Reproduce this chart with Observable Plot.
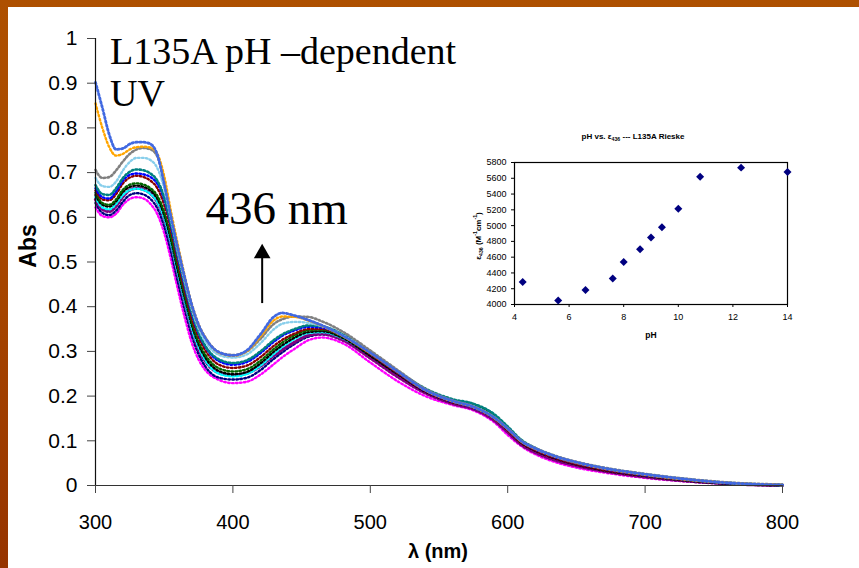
<!DOCTYPE html>
<html><head><meta charset="utf-8">
<script src="https://cdn.jsdelivr.net/npm/d3@7"></script>
<script src="https://cdn.jsdelivr.net/npm/@observablehq/plot@0.6"></script>
<style>
html,body{margin:0;padding:0;}
body{width:859px;height:568px;overflow:hidden;position:relative;
 background:linear-gradient(180deg,#ae5000 0%,#a54400 55%,#963400 100%);
 font-family:"Liberation Sans",Arial,sans-serif;}
#panel{position:absolute;left:8px;top:7px;right:0;bottom:0;background:#fff;}
.abs{position:absolute;white-space:nowrap;}
.serif{font-family:"Liberation Serif","Times New Roman",serif;}
sub,sup{font-size:65%;line-height:0;}
</style></head><body>
<div id="panel"></div>
<div id="main" class="abs" style="left:0;top:0"></div>
<div id="inset" class="abs" style="left:470px;top:120px"></div>
<div class="abs serif" style="left:110px;top:30px;font-size:38px;line-height:42px;">L135A pH –dependent<br>UV</div>
<div class="abs" style="left:28px;top:246px;font-size:23px;font-weight:bold;transform:translate(-50%,-50%) rotate(-90deg);">Abs</div>
<div class="abs" style="left:438px;top:551px;font-size:20px;font-weight:bold;transform:translate(-50%,-50%);">λ (nm)</div>
<div class="abs" style="left:633px;top:136px;font-size:8px;font-weight:bold;transform:translate(-50%,-50%);">pH vs. ε<sub>436</sub> --- L135A Rieske</div>
<div class="abs" style="left:651px;top:335px;font-size:8.5px;font-weight:bold;transform:translate(-50%,-50%);">pH</div>
<div class="abs" style="left:478px;top:236px;font-size:8px;font-weight:bold;transform:translate(-50%,-50%) rotate(-90deg);">ε<sub>436</sub> (M<sup>-1</sup>cm<sup>-1</sup>)</div>
<script>
// ---- main spectra data ----
const wavelengths = [300,305,310,315,320,325,330,335,340,345,350,355,360,365,370,375,380,390,400,410,420,430,436,445,455,465,480,500,520,540,560,575,590,600,610,620,635,650,670,700,730,760,800];

const royalBlue = [0.902,0.845,0.785,0.752,0.754,0.764,0.768,0.768,0.764,0.740,0.675,0.600,0.530,0.465,0.405,0.360,0.330,0.298,0.291,0.302,0.338,0.378,0.386,0.380,0.370,0.358,0.335,0.297,0.255,0.214,0.189,0.176,0.152,0.127,0.099,0.083,0.065,0.052,0.039,0.025,0.014,0.006,0.001];
const orange = [0.855,0.800,0.757,0.738,0.742,0.752,0.757,0.758,0.756,0.742,0.692,0.612,0.538,0.468,0.407,0.361,0.331,0.297,0.290,0.300,0.333,0.370,0.378,0.377,0.369,0.357,0.334,0.296,0.254,0.213,0.188,0.175,0.151,0.126,0.098,0.082,0.064,0.051,0.038,0.024,0.013,0.006,0.001];
const gray = [0.706,0.688,0.690,0.705,0.725,0.742,0.752,0.755,0.752,0.736,0.682,0.602,0.527,0.461,0.401,0.357,0.330,0.298,0.292,0.300,0.328,0.362,0.372,0.378,0.377,0.367,0.344,0.302,0.258,0.216,0.190,0.177,0.153,0.128,0.100,0.084,0.066,0.053,0.040,0.026,0.015,0.007,0.002];
const skyBlue = [0.688,0.670,0.668,0.680,0.705,0.724,0.733,0.733,0.728,0.710,0.665,0.595,0.522,0.456,0.396,0.351,0.322,0.292,0.286,0.293,0.318,0.350,0.362,0.366,0.364,0.356,0.336,0.298,0.255,0.214,0.189,0.177,0.153,0.127,0.099,0.083,0.065,0.052,0.039,0.025,0.014,0.006,0.001];
const teal = [0.672,0.652,0.650,0.665,0.688,0.702,0.707,0.705,0.698,0.682,0.645,0.585,0.515,0.450,0.390,0.343,0.312,0.282,0.274,0.280,0.300,0.326,0.338,0.350,0.358,0.356,0.338,0.298,0.256,0.217,0.193,0.183,0.160,0.132,0.102,0.084,0.065,0.052,0.039,0.025,0.014,0.006,0.001];
const blue = [0.665,0.645,0.642,0.658,0.682,0.695,0.698,0.696,0.690,0.675,0.640,0.580,0.510,0.445,0.385,0.340,0.310,0.278,0.270,0.276,0.296,0.322,0.335,0.347,0.355,0.353,0.336,0.296,0.253,0.212,0.187,0.174,0.151,0.126,0.098,0.081,0.063,0.050,0.037,0.023,0.013,0.005,0.001];
const darkRed = [0.660,0.640,0.638,0.652,0.676,0.689,0.693,0.690,0.682,0.665,0.628,0.570,0.500,0.435,0.375,0.332,0.302,0.270,0.263,0.268,0.287,0.313,0.326,0.340,0.350,0.350,0.334,0.294,0.251,0.211,0.186,0.174,0.150,0.124,0.096,0.079,0.061,0.048,0.035,0.022,0.012,0.005,0.001];
const darkGreen = [0.655,0.632,0.628,0.640,0.662,0.673,0.676,0.673,0.665,0.648,0.612,0.555,0.488,0.425,0.366,0.322,0.292,0.262,0.255,0.260,0.279,0.306,0.320,0.336,0.347,0.348,0.333,0.294,0.253,0.215,0.191,0.182,0.158,0.130,0.100,0.082,0.063,0.050,0.037,0.023,0.013,0.005,0.001];
const black = [0.650,0.628,0.624,0.636,0.657,0.668,0.671,0.668,0.660,0.642,0.605,0.548,0.480,0.418,0.360,0.316,0.286,0.256,0.249,0.254,0.273,0.300,0.314,0.331,0.343,0.345,0.330,0.290,0.249,0.210,0.186,0.175,0.151,0.124,0.095,0.078,0.060,0.047,0.034,0.021,0.011,0.004,0.000];
const cyan = [0.645,0.622,0.618,0.630,0.650,0.661,0.664,0.661,0.652,0.634,0.597,0.540,0.473,0.410,0.352,0.309,0.280,0.250,0.244,0.249,0.268,0.295,0.310,0.328,0.341,0.343,0.329,0.291,0.250,0.212,0.188,0.178,0.155,0.127,0.097,0.080,0.062,0.049,0.036,0.022,0.012,0.005,0.001];
const purple = [0.640,0.618,0.613,0.625,0.646,0.661,0.665,0.662,0.653,0.634,0.596,0.540,0.472,0.408,0.350,0.306,0.278,0.252,0.247,0.251,0.267,0.291,0.304,0.321,0.336,0.339,0.325,0.285,0.243,0.207,0.183,0.171,0.146,0.119,0.091,0.074,0.056,0.044,0.032,0.019,0.010,0.004,0.000];
const navy = [0.632,0.610,0.605,0.615,0.635,0.650,0.654,0.651,0.641,0.620,0.580,0.522,0.455,0.393,0.336,0.294,0.266,0.241,0.237,0.241,0.258,0.284,0.298,0.317,0.333,0.338,0.326,0.288,0.246,0.208,0.184,0.172,0.147,0.120,0.092,0.075,0.057,0.045,0.033,0.020,0.010,0.004,0.000];
const magenta = [0.622,0.603,0.600,0.608,0.628,0.641,0.645,0.642,0.630,0.607,0.565,0.505,0.438,0.375,0.320,0.282,0.258,0.236,0.229,0.232,0.248,0.272,0.287,0.306,0.325,0.331,0.318,0.275,0.233,0.200,0.180,0.168,0.142,0.113,0.088,0.070,0.052,0.040,0.029,0.017,0.009,0.004,0.000];

const seriesNames  = ["magenta","navy","purple","cyan","black","darkGreen","darkRed","blue","teal","skyBlue","gray","orange","royalBlue"];
const seriesValues = [magenta,navy,purple,cyan,black,darkGreen,darkRed,blue,teal,skyBlue,gray,orange,royalBlue];
const seriesColors = ["#ff00ff","#000080","#800080","#00e2ea","#000000","#004d1a","#8b0a0a","#0a14ff","#007f7f","#33ccff","#8a8a8a","#ff6a1a","#4070f0"];
const seriesWidths = [2.4,2.4,3.2,2.4,2.4,2.4,2.4,2.4,2.6,2.4,2.6,2.4,2.8];

const xTicks = [300,400,500,600,700,800];
const yTicks = [0,0.1,0.2,0.3,0.4,0.5,0.6,0.7,0.8,0.9,1];

// annotations
const bandLabel = [{lambda:380, abs:0.586, text:"436 nm"}];
const arrowShaft = [{lambda:421.3, from:0.407, to:0.512}];
const arrowHead = [{lambda:421.3, abs:0.519}];

// ---- inset data ----
const pH  = [4.3,5.6,6.6,7.6,8.0,8.6,9.0,9.4,10.0,10.8,12.3,14.0];
const eps = [4285,4050,4185,4330,4540,4700,4850,4980,5215,5620,5735,5680];
const insetXTicks = [4,6,8,10,12,14];
const insetYTicks = [4000,4200,4400,4600,4800,5000,5200,5400,5600,5800];

const rows = seriesNames.flatMap((n,k) => wavelengths.map((w,i) => ({lambda:w, abs:seriesValues[k][i], series:n})));

const lineMarks = seriesNames.map((n,k) => Plot.line(rows.filter(r => r.series === n), {
  x:"lambda", y:"abs", stroke:"series", strokeWidth:seriesWidths[k],
  strokeDasharray:"1.6,2.4", curve:"monotone-x"
}));

const main = Plot.plot({
  width:859, height:568,
  marginLeft:95, marginRight:77, marginTop:38, marginBottom:83,
  style:{background:"transparent", overflow:"visible", fontFamily:"Liberation Sans, Arial, sans-serif"},
  x:{domain:[300,800]},
  y:{domain:[0,1]},
  color:{domain:seriesNames, range:seriesColors},
  marks:[
    ...lineMarks,
    Plot.ruleY([0], {stroke:"#333", strokeWidth:1.2}),
    Plot.ruleX([300], {stroke:"#111", strokeWidth:1.2}),
    Plot.axisY({ticks:yTicks, tickFormat:d => String(d), tickSize:8, tickPadding:10, fontSize:21, label:null, stroke:"#444"}),
    Plot.axisX({ticks:xTicks, tickFormat:d => String(d), tickSize:8, tickPadding:21, fontSize:20, label:null, stroke:"#444"}),
    Plot.text(bandLabel, {x:"lambda", y:"abs", text:"text", fontFamily:"Liberation Serif, Times New Roman, serif", fontSize:47, textAnchor:"start", lineAnchor:"bottom", fill:"black"}),
    Plot.ruleX(arrowShaft, {x:"lambda", y1:"from", y2:"to", stroke:"black", strokeWidth:2}),
    Plot.dot(arrowHead, {x:"lambda", y:"abs", symbol:"triangle", r:6.2, fill:"black", stroke:"none"})
  ]
});
document.getElementById("main").appendChild(main);

const insetRows = pH.map((p,i) => ({pH:p, eps:eps[i]}));
const inset = Plot.plot({
  width:330, height:230,
  marginLeft:44, marginRight:13, marginTop:42, marginBottom:46,
  style:{background:"transparent", overflow:"visible", fontFamily:"Liberation Sans, Arial, sans-serif"},
  x:{domain:[4,14]},
  y:{domain:[4000,5800]},
  marks:[
    Plot.frame({stroke:"black", strokeWidth:1.2}),
    Plot.axisY({ticks:insetYTicks, tickFormat:d => String(d), tickSize:3, tickPadding:5, fontSize:9, label:null}),
    Plot.axisX({ticks:insetXTicks, tickFormat:d => String(d), tickSize:3, tickPadding:6, fontSize:9, label:null}),
    Plot.dot(insetRows, {x:"pH", y:"eps", symbol:"diamond2", r:3.6, fill:"#000080", stroke:"none"})
  ]
});
document.getElementById("inset").appendChild(inset);
</script>
</body></html>
